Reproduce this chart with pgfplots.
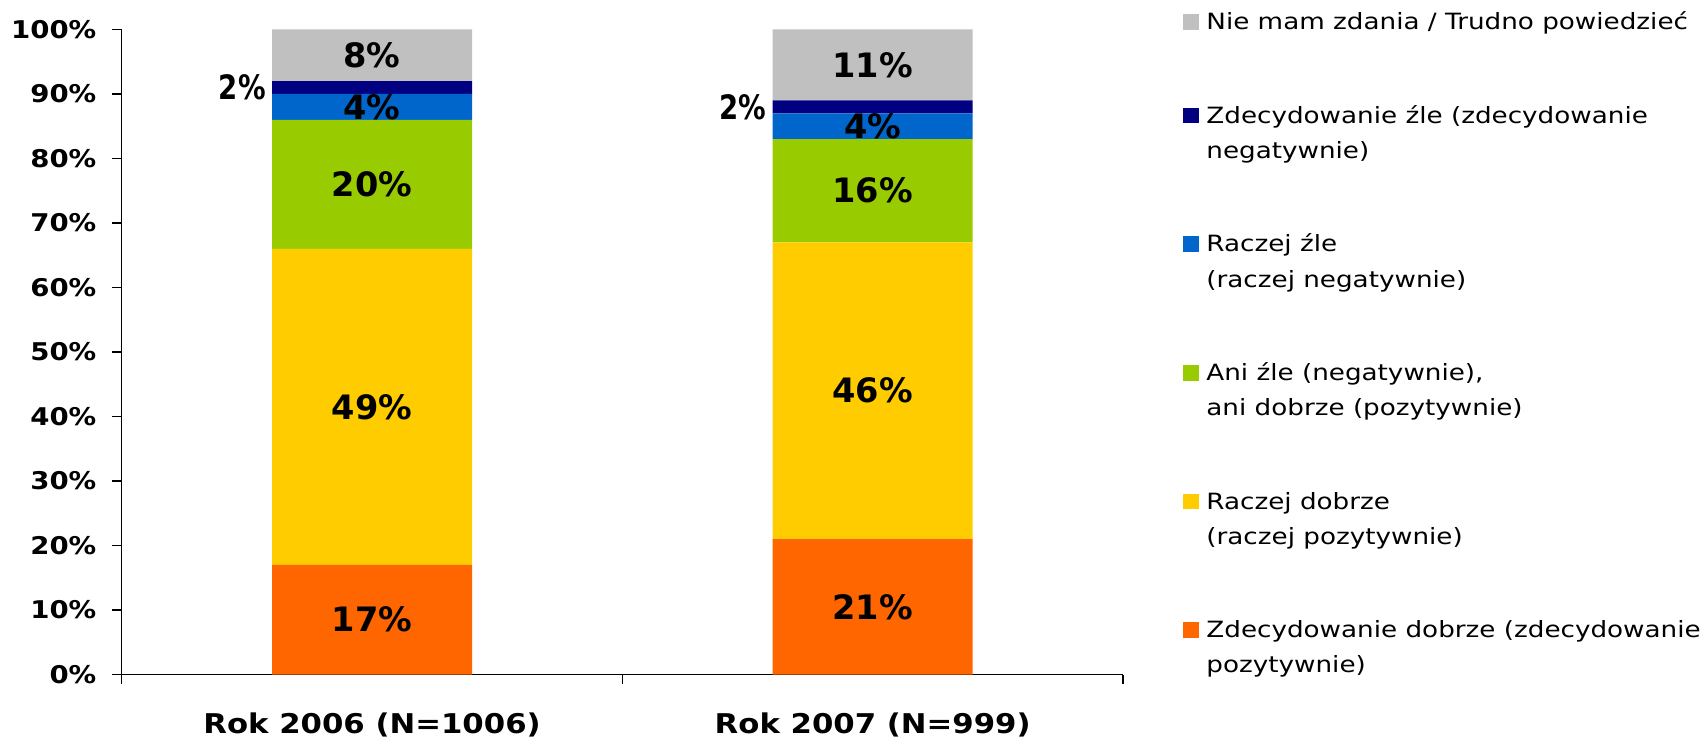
\documentclass[border=0pt]{standalone}
\usepackage{pgfplots}
\pgfplotsset{compat=1.18}
\usepackage{pgfplotstable}
\usepackage{fontspec}
\setmainfont{DejaVu Sans}
\newfontfamily\legfont[FakeStretch=1.17]{DejaVu Sans}
\newfontfamily\tickfont[FakeStretch=1.13]{DejaVu Sans}
\definecolor{cGray}{HTML}{C0C0C0}
\definecolor{cNavy}{HTML}{000080}
\definecolor{cBlue}{HTML}{0066CC}
\definecolor{cGreen}{HTML}{99CC00}
\definecolor{cYellow}{HTML}{FFCC00}
\definecolor{cOrange}{HTML}{FF6600}
\newcommand\legtwo[2]{\begin{tabular}[t]{@{}l@{}}#1\\#2\end{tabular}}
\pgfplotstableread{
x   or ye gr bl nv gy
0.5 17 49 20 4  2  8
1.5 21 46 16 4  2  11
}\data
\begin{document}
\begin{tikzpicture}
\path[use as bounding box] (0,0) rectangle (852.5pt,370pt);
\begin{axis}[
  at={(60.85pt,32.75pt)}, anchor=south west,
  scale only axis, width=500.65pt, height=322.5pt,
  xmin=0, xmax=2, ymin=0, ymax=100,
  clip=false,
  axis x line=bottom, axis y line=left,
  axis line style={-, line width=0.8pt, black},
  ytick={0,10,...,100},
  yticklabels={0\%,10\%,20\%,30\%,40\%,50\%,60\%,70\%,80\%,90\%,100\%},
  xtick={0.5,1.5},
  xticklabels={Rok 2006 (N=1006),Rok 2007 (N=999)},
  minor xtick={0,1,2},
  major x tick style={draw=none},
  tick style={black, line width=0.8pt},
  tick align=outside,
  major tick length=4.75pt, minor tick length=5pt,
  yticklabel style={font=\tickfont\bfseries\fontsize{12.2}{15}\selectfont, xshift=-4.4pt},
  xticklabel style={font=\tickfont\bfseries\fontsize{13.6}{17}\selectfont, yshift=-11pt},
  ybar stacked, bar width=100pt,
  point meta=explicit,
  /pgf/number format/assume math mode=true,
  nodes near coords={\pgfmathprintnumber{\pgfplotspointmeta}\%},
  every node near coord/.append style={font=\bfseries\fontsize{16.8}{20}\selectfont, anchor=center, inner sep=0pt},
  reverse legend,
  legend image code/.code={\fill[#1] (0pt,0pt) rectangle (7.75pt,7.8pt);},
  legend style={draw=none, fill=none, inner sep=0pt,
    at={(axis description cs:1.05993,1.03811)}, anchor=north west,
    row sep=29.1pt, column sep=3.75pt,
    font=\legfont\fontsize{11.2}{17.6}\selectfont,
    nodes={inner sep=0pt, text depth={}},
    cells={anchor=base west}},
]
\addplot[fill=cOrange, draw=none] table[x=x,y=or,meta=or]{\data};
\addlegendentry{\legtwo{Zdecydowanie dobrze (zdecydowanie}{pozytywnie)}}
\addplot[fill=cYellow, draw=none] table[x=x,y=ye,meta=ye]{\data};
\addlegendentry{\legtwo{Raczej dobrze}{(raczej pozytywnie)}}
\addplot[fill=cGreen, draw=none] table[x=x,y=gr,meta=gr]{\data};
\addlegendentry{\legtwo{Ani źle (negatywnie),}{ani dobrze (pozytywnie)}}
\addplot[fill=cBlue, draw=none] table[x=x,y=bl,meta=bl]{\data};
\addlegendentry{\legtwo{Raczej źle}{(raczej negatywnie)}}
\addplot[fill=cNavy, draw=none,
  nodes near coords={\scalebox{0.82}[1]{\pgfmathprintnumber{\pgfplotspointmeta}\%}},
  every node near coord/.append style={anchor=east, xshift=-53pt}] table[x=x,y=nv,meta=nv]{\data};
\addlegendentry{\legtwo{Zdecydowanie źle (zdecydowanie}{negatywnie)}}
\addplot[fill=cGray, draw=none] table[x=x,y=gy,meta=gy]{\data};
\addlegendentry{\legtwo{Nie mam zdania / Trudno powiedzieć}{}}
\end{axis}
\end{tikzpicture}
\end{document}
